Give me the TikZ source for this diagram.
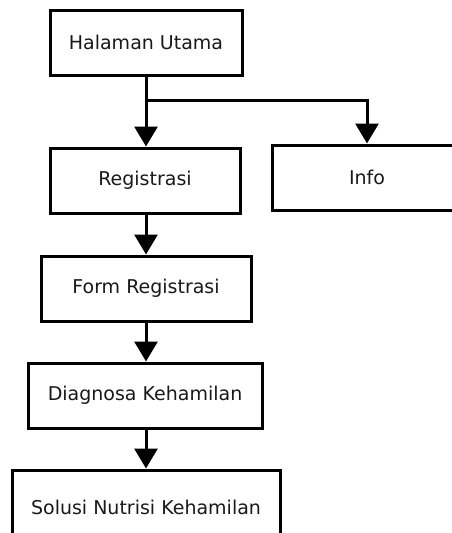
\documentclass[tikz,border=0pt]{standalone}
\usepackage{fontspec}
\setmainfont{DejaVu Sans}
\usetikzlibrary{arrows.meta}

\tikzset{
    kotak/.style={draw, line width=3pt, inner sep=0pt, font=\fontsize{19}{22}\selectfont, text=black!90},
    panah/.style={line width=3pt, -{Triangle[width=23pt,length=20pt]}}
}

\begin{document}
\begin{tikzpicture}[x=1pt, y=-1pt]
    \clip (0,0) rectangle (452,533);
    \node[kotak, minimum width=192pt, minimum height=65pt] (hal)  at (146,42.5) {Halaman Utama};
    \node[kotak, minimum width=190pt, minimum height=65pt] (reg)  at (145,180.5) {Registrasi};
    \node[kotak, minimum width=190pt, minimum height=65pt] (info) at (367,177.5) {Info};
    \node[kotak, minimum width=210pt, minimum height=65pt] (form) at (146,288.5) {Form Registrasi};
    \node[kotak, minimum width=234pt, minimum height=65pt] (diag) at (145,395.5) {Diagnosa Kehamilan};
    \node[kotak, minimum width=268pt, minimum height=74pt] (sol)  at (146,507) {Solusi Nutrisi Kehamilan};
    \coordinate (cab) at (146,100); % titik cabang
    \draw[line width=3pt] (hal.south) -- (cab);
    \draw[panah] (cab) -- (cab |- reg.north);
    \draw[panah] (cab) -| (info.north);
    \draw[panah] (hal.south |- reg.south) -- (hal.south |- form.north);
    \draw[panah] (form.south) -- (form.south |- diag.north);
    \draw[panah] (form.south |- diag.south) -- (form.south |- sol.north);
\end{tikzpicture}
\end{document}
